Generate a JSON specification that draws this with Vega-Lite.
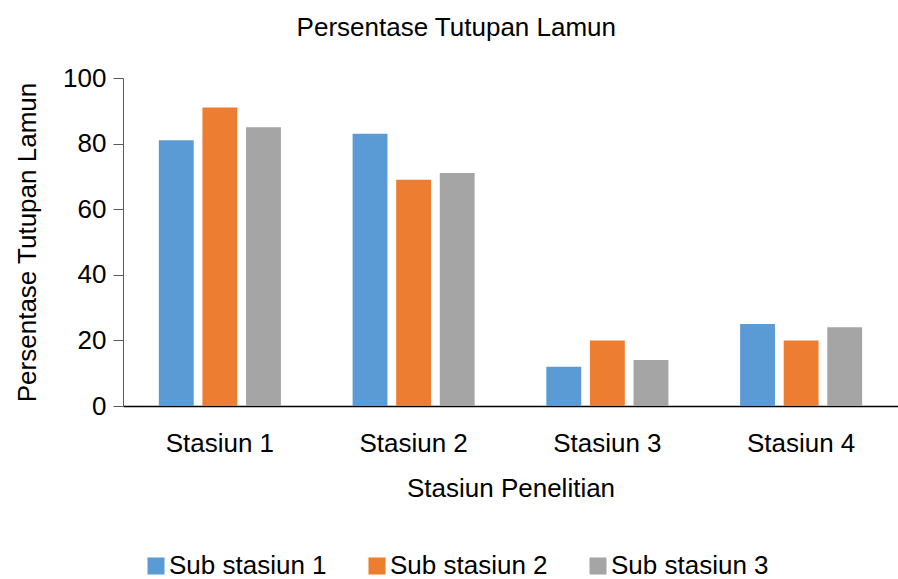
{
  "$schema": "https://vega.github.io/schema/vega-lite/v6.json",
  "autosize": "none",
  "width": 775,
  "height": 328,
  "padding": {"left": 123, "top": 78, "right": 0, "bottom": 173},
  "background": "white",
  "config": {
    "font": "Liberation Sans",
    "view": {"stroke": null}
  },
  "title": {
    "text": "Persentase Tutupan Lamun",
    "fontSize": 26,
    "fontWeight": "normal",
    "font": "Liberation Sans",
    "color": "#000000",
    "anchor": "middle",
    "frame": "bounds",
    "offset": 24
  },
  "data": {
    "values": [
      {"stasiun": "Stasiun 1", "sub": "Sub stasiun 1", "value": 81},
      {"stasiun": "Stasiun 1", "sub": "Sub stasiun 2", "value": 91},
      {"stasiun": "Stasiun 1", "sub": "Sub stasiun 3", "value": 85},
      {"stasiun": "Stasiun 2", "sub": "Sub stasiun 1", "value": 83},
      {"stasiun": "Stasiun 2", "sub": "Sub stasiun 2", "value": 69},
      {"stasiun": "Stasiun 2", "sub": "Sub stasiun 3", "value": 71},
      {"stasiun": "Stasiun 3", "sub": "Sub stasiun 1", "value": 12},
      {"stasiun": "Stasiun 3", "sub": "Sub stasiun 2", "value": 20},
      {"stasiun": "Stasiun 3", "sub": "Sub stasiun 3", "value": 14},
      {"stasiun": "Stasiun 4", "sub": "Sub stasiun 1", "value": 25},
      {"stasiun": "Stasiun 4", "sub": "Sub stasiun 2", "value": 20},
      {"stasiun": "Stasiun 4", "sub": "Sub stasiun 3", "value": 24}
    ]
  },
  "mark": {"type": "bar"},
  "encoding": {
    "x": {
      "field": "stasiun",
      "type": "nominal",
      "scale": {"paddingInner": 0.37, "paddingOuter": 0.185},
      "axis": {
        "title": "Stasiun Penelitian",
        "titleFontSize": 26,
        "titleFontWeight": "normal",
        "titleColor": "#000000",
        "titlePadding": 19,
        "labelAngle": 0,
        "labelFontSize": 26,
        "labelColor": "#000000",
        "labelPadding": 24,
        "ticks": false,
        "domainColor": "#000000",
        "domainWidth": 1.5
      }
    },
    "xOffset": {
      "field": "sub",
      "type": "nominal",
      "scale": {"paddingInner": 0.2, "paddingOuter": 0}
    },
    "y": {
      "field": "value",
      "type": "quantitative",
      "scale": {"domain": [0, 100], "nice": false},
      "axis": {
        "title": "Persentase Tutupan Lamun",
        "titleFontSize": 26,
        "titleFontWeight": "normal",
        "titleColor": "#000000",
        "titlePadding": 22,
        "values": [0, 20, 40, 60, 80, 100],
        "labelFontSize": 26,
        "labelColor": "#000000",
        "labelPadding": 7,
        "tickSize": 10,
        "tickColor": "#595959",
        "domainColor": "#595959",
        "grid": false
      }
    },
    "color": {
      "field": "sub",
      "type": "nominal",
      "scale": {
        "domain": ["Sub stasiun 1", "Sub stasiun 2", "Sub stasiun 3"],
        "range": ["#5B9BD5", "#ED7D31", "#A5A5A5"]
      },
      "legend": {
        "title": null,
        "orient": "none",
        "direction": "horizontal",
        "legendX": 20,
        "legendY": 475,
        "symbolType": "square",
        "symbolSize": 290,
        "symbolStrokeWidth": 0,
        "labelFontSize": 26,
        "labelColor": "#000000",
        "labelOffset": 0,
        "columnPadding": 37,
        "labelLimit": 300
      }
    }
  }
}
